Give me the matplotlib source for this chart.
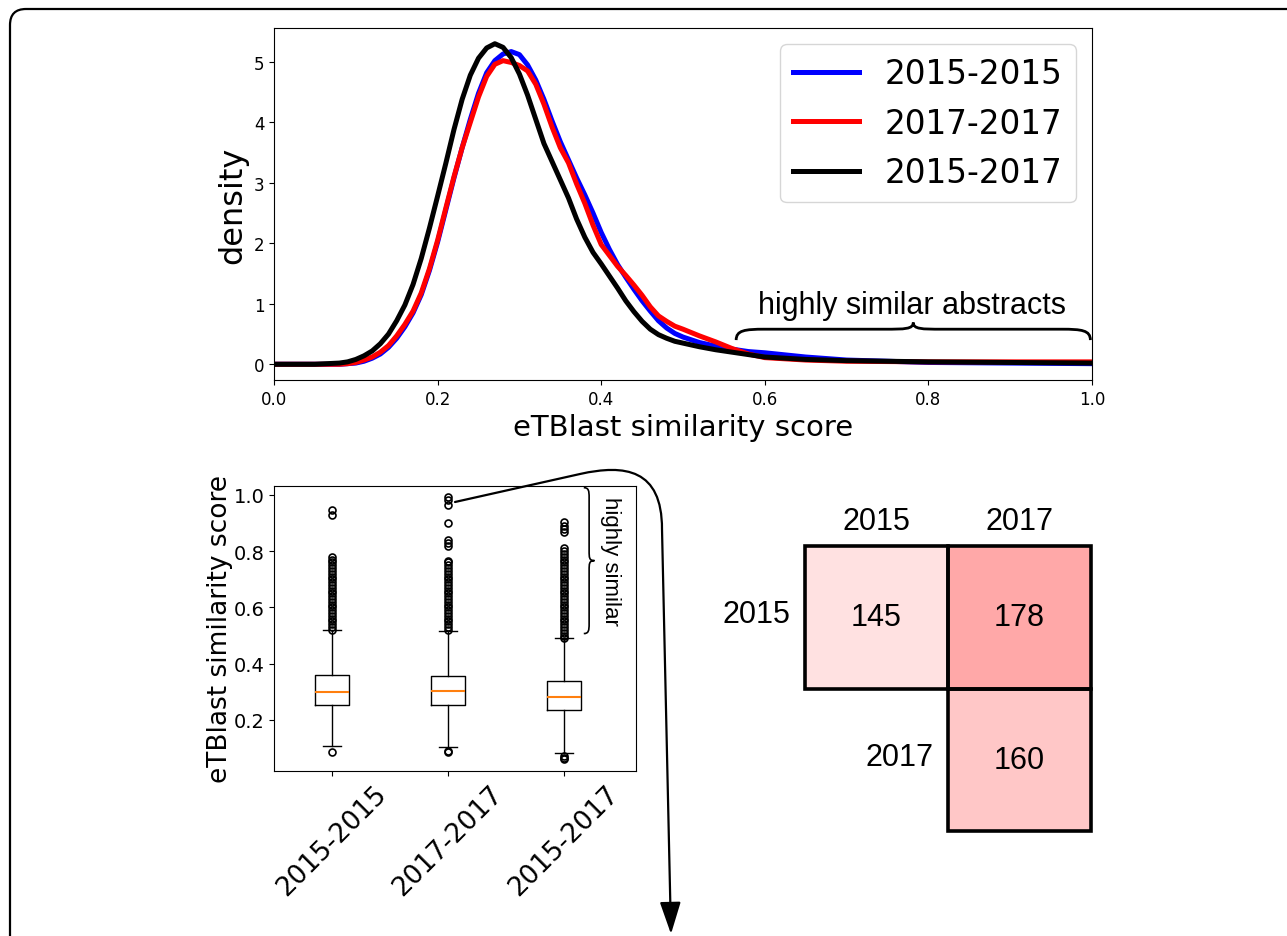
import numpy as np
import matplotlib
matplotlib.use("Agg")
import matplotlib.pyplot as plt
from matplotlib.path import Path
from matplotlib.patches import FancyBboxPatch, FancyArrowPatch, PathPatch, Rectangle
from matplotlib.colors import LinearSegmentedColormap, Normalize
import matplotlib.transforms as mtransforms

# ---------------- data ----------------
series_names = ["2015-2015", "2017-2017", "2015-2017"]
series_colors = ["blue", "red", "black"]

score = [0.00, 0.05, 0.08, 0.09, 0.10, 0.11, 0.12, 0.13, 0.14, 0.15, 0.16, 0.17, 0.18,
         0.19, 0.20, 0.21, 0.22, 0.23, 0.24, 0.25, 0.26, 0.27, 0.28, 0.29, 0.30, 0.31,
         0.32, 0.33, 0.34, 0.35, 0.36, 0.37, 0.38, 0.39, 0.40, 0.41, 0.42, 0.43, 0.44,
         0.45, 0.46, 0.47, 0.48, 0.49, 0.50, 0.52, 0.54, 0.56, 0.58, 0.60, 0.65, 0.70,
         0.80, 0.90, 1.00]

dens_2015 = [0.00, 0.00, 0.00, 0.01, 0.02, 0.05, 0.10, 0.17, 0.28, 0.43, 0.62, 0.85, 1.15,
             1.55, 2.02, 2.55, 3.08, 3.58, 4.05, 4.48, 4.82, 5.02, 5.13, 5.17, 5.12, 4.95,
             4.70, 4.38, 4.02, 3.68, 3.38, 3.08, 2.80, 2.50, 2.18, 1.90, 1.65, 1.44, 1.24,
             1.05, 0.88, 0.72, 0.60, 0.51, 0.45, 0.36, 0.30, 0.25, 0.21, 0.19, 0.12, 0.07,
             0.03, 0.02, 0.01]

dens_2017 = [0.00, 0.00, 0.00, 0.01, 0.03, 0.07, 0.12, 0.20, 0.31, 0.47, 0.66, 0.88, 1.18,
             1.58, 2.05, 2.58, 3.10, 3.58, 4.00, 4.42, 4.76, 4.96, 5.02, 4.99, 4.94, 4.85,
             4.63, 4.30, 3.92, 3.58, 3.33, 2.98, 2.66, 2.30, 1.98, 1.80, 1.62, 1.47, 1.31,
             1.14, 0.95, 0.80, 0.71, 0.63, 0.58, 0.47, 0.37, 0.26, 0.17, 0.11, 0.07, 0.05,
             0.04, 0.04, 0.04]

dens_cross = [0.00, 0.00, 0.02, 0.04, 0.08, 0.14, 0.22, 0.34, 0.50, 0.72, 0.98, 1.32, 1.75,
              2.25, 2.78, 3.32, 3.88, 4.38, 4.78, 5.06, 5.23, 5.30, 5.24, 5.07, 4.80, 4.45,
              4.05, 3.65, 3.35, 3.05, 2.75, 2.40, 2.10, 1.85, 1.66, 1.46, 1.26, 1.05, 0.87,
              0.71, 0.58, 0.49, 0.43, 0.38, 0.35, 0.29, 0.24, 0.20, 0.16, 0.12, 0.08, 0.06,
              0.04, 0.03, 0.02]

# boxplot summaries
box_labels = ["2015-2015", "2017-2017", "2015-2017"]
whislo = [0.108, 0.105, 0.083]
q1 = [0.253, 0.253, 0.235]
med = [0.300, 0.303, 0.280]
q3 = [0.358, 0.357, 0.338]
whishi = [0.519, 0.517, 0.492]
fliers_2015 = [0.085, 0.52, 0.53, 0.54, 0.55, 0.56, 0.57, 0.58, 0.59, 0.60, 0.61, 0.62,
               0.63, 0.64, 0.65, 0.66, 0.67, 0.68, 0.69, 0.70, 0.71, 0.72, 0.73, 0.74,
               0.75, 0.76, 0.77, 0.78, 0.930, 0.945]
fliers_2017 = [0.085, 0.09, 0.52, 0.53, 0.54, 0.55, 0.56, 0.57, 0.58, 0.59, 0.60, 0.61,
               0.62, 0.63, 0.64, 0.65, 0.66, 0.67, 0.68, 0.69, 0.70, 0.71, 0.72, 0.73,
               0.74, 0.75, 0.76, 0.765, 0.82, 0.83, 0.84, 0.90, 0.963, 0.983, 0.994]
fliers_cross = [0.06, 0.065, 0.07, 0.49, 0.50, 0.51, 0.52, 0.53, 0.54, 0.55, 0.56, 0.57,
                0.58, 0.59, 0.60, 0.61, 0.62, 0.63, 0.64, 0.65, 0.66, 0.67, 0.68, 0.69,
                0.70, 0.71, 0.72, 0.73, 0.74, 0.75, 0.76, 0.77, 0.78, 0.79, 0.80, 0.81,
                0.87, 0.88, 0.89, 0.905]

# counts of highly similar pairs
years = ["2015", "2017"]
counts = [[145, 178],
          [np.nan, 160]]

# ---------------- figure ----------------
W, H = 1287, 937
fig = plt.figure(figsize=(W / 100, H / 100), dpi=100)
ident = mtransforms.IdentityTransform()
arial = "Liberation Sans"


def ax_rect(left, top, right, bottom):
    return [left / W, 1 - bottom / H, (right - left) / W, (bottom - top) / H]


def brace(ax, a0, a1, b0, bf, bt, w, vertical=False, **kw):
    # curly brace along a (from a0 to a1), ends at b0, flat part bf, tip bt
    s = np.sign(a1 - a0)
    w = w * s
    am = (a0 + a1) / 2
    bc = b0 + 0.9 * (bf - b0)
    pts = [(a0, b0), (a0, bc), (a0 + 0.3 * w, bf), (a0 + w, bf),
           (am - w, bf),
           (am - 0.3 * w, bf), (am, bf), (am, bt),
           (am, bf), (am + 0.3 * w, bf), (am + w, bf),
           (a1 - w, bf),
           (a1 - 0.3 * w, bf), (a1, bc), (a1, b0)]
    codes = [Path.MOVETO, Path.CURVE4, Path.CURVE4, Path.CURVE4, Path.LINETO,
             Path.CURVE4, Path.CURVE4, Path.CURVE4, Path.CURVE4, Path.CURVE4, Path.CURVE4,
             Path.LINETO, Path.CURVE4, Path.CURVE4, Path.CURVE4]
    if vertical:
        pts = [(b, a) for a, b in pts]
    ax.add_patch(PathPatch(Path(pts, codes), fill=False, clip_on=False, **kw))


# rounded outer frame (runs off the right and bottom edges)
frame = FancyBboxPatch((10, -60), 1400, H - 10 + 60,
                       boxstyle="round,pad=0,rounding_size=16",
                       transform=ident, fill=False, ec="black", lw=1.6)
fig.add_artist(frame)

# ---- density plot ----
ax1 = fig.add_axes(ax_rect(274, 29, 1092, 381))
for vals, name, col in zip([dens_2015, dens_2017, dens_cross], series_names, series_colors):
    ax1.plot(score, vals, color=col, lw=3.6, label=name)
ax1.set_xlim(0, 1)
ax1.set_ylim(-0.26, 5.56)
ax1.set_yticks([0, 1, 2, 3, 4, 5])
ax1.tick_params(labelsize=12)
ax1.set_xlabel("eTBlast similarity score", fontsize=21)
ax1.set_ylabel("density", fontsize=23)
ax1.legend(loc="upper right", fontsize=23.5)
brace(ax1, 0.565, 0.998, 0.40, 0.58, 0.69, 0.035, color="black", lw=2)
ax1.text(0.78, 0.98, "highly similar abstracts", fontsize=22, family=arial,
         ha="center", va="center")

# ---- boxplot ----
ax2 = fig.add_axes(ax_rect(274, 487, 636, 772))
stats = []
for i, fl in enumerate([fliers_2015, fliers_2017, fliers_cross]):
    stats.append(dict(label=box_labels[i], whislo=whislo[i], q1=q1[i], med=med[i],
                      q3=q3[i], whishi=whishi[i], fliers=fl))
ax2.bxp(stats, widths=0.3,
        flierprops=dict(marker="o", markerfacecolor="none", markeredgecolor="black",
                        markersize=5, markeredgewidth=1.2),
        medianprops=dict(color="#ff7f0e", lw=1.5))
ax2.set_xlim(0.5, 3.62)
ax2.set_ylim(0.018, 1.032)
ax2.set_yticks([0.2, 0.4, 0.6, 0.8, 1.0])
ax2.tick_params(axis="y", labelsize=14)
ax2.tick_params(axis="x", labelsize=19)
plt.setp(ax2.get_xticklabels(), rotation=45)
ax2.set_ylabel("eTBlast similarity score", fontsize=19, labelpad=0)
brace(ax2, 1.026, 0.507, 3.17, 3.216, 3.262, 0.035, vertical=True, color="black", lw=1.2)
ax2.text(3.40, 0.767, "highly similar", fontsize=16, family=arial, rotation=-90,
         ha="center", va="center")

# ---- counts table ----
ax3 = fig.add_axes(ax_rect(805, 547, 1091, 832))
cmap = LinearSegmentedColormap.from_list("wr", ["white", "red"])
norm = Normalize(vmin=127, vmax=277)
arr = np.ma.masked_invalid(np.array(counts, dtype=float))
ax3.imshow(arr, cmap=cmap, norm=norm, extent=(0, 2, 2, 0), aspect="auto",
           interpolation="nearest")
ax3.set_xlim(0, 2)
ax3.set_ylim(2, 0)
ax3.axis("off")
for i in range(len(years)):
    first = None
    for j in range(len(years)):
        v = counts[i][j]
        if np.isnan(v):
            continue
        if first is None:
            first = j
        ax3.add_patch(Rectangle((j, i), 1, 1, fill=False, ec="black", lw=2.6, clip_on=False))
        ax3.text(j + 0.5, i + 0.5, str(int(v)), fontsize=22, family=arial,
                 ha="center", va="center")
    ax3.text(first - 0.1, i + 0.48, years[i], fontsize=22, family=arial,
             ha="right", va="center")
for j, yr in enumerate(years):
    ax3.text(j + 0.5, -0.175, yr, fontsize=22, family=arial, ha="center", va="center")

# ---- curved arrow from the top outlier down to the next panel ----
pts_px = [(455, 503), (580, 475), (625, 465), (662, 470), (662, 530), (671, 935)]
codes = [Path.MOVETO, Path.LINETO, Path.CURVE4, Path.CURVE4, Path.CURVE4, Path.LINETO]
arrow_path = Path([(x, H - y) for x, y in pts_px], codes)
arrow = FancyArrowPatch(path=arrow_path, arrowstyle="-|>,head_length=0.55,head_width=0.18",
                        mutation_scale=36, transform=ident, color="black", lw=1.6,
                        shrinkA=0, shrinkB=0)
fig.add_artist(arrow)

fig.savefig("out.png", dpi=100)
